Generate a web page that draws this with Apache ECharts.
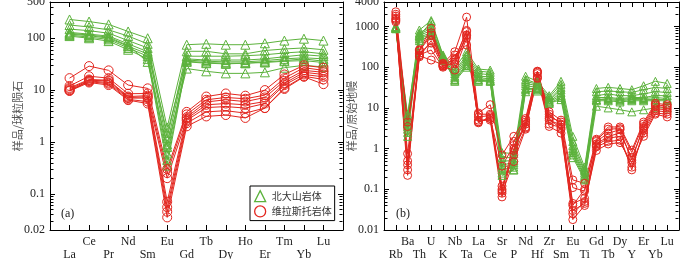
<!DOCTYPE html>
<html><head><meta charset="utf-8">
<script src="https://cdn.jsdelivr.net/npm/echarts@6/dist/echarts.min.js"></script>
<style>html,body{margin:0;padding:0;background:#fff}#c{width:700px;height:259px}</style>
</head><body><div id="c"></div>
<script>
// ---------- data ----------
const reeElements = ['La','Ce','Pr','Nd','Sm','Eu','Gd','Tb','Dy','Ho','Er','Tm','Yb','Lu'];
const spiderElements = ['Rb','Ba','Th','U','K','Nb','Ta','La','Ce','Sr','P','Nd','Hf','Zr','Sm','Eu','Ti','Gd','Tb','Dy','Y','Er','Yb','Lu'];
const yTicksA = [0.02, 0.1, 1, 10, 100, 500];
const yTicksB = [0.01, 0.1, 1, 10, 100, 1000, 4000];

// (a) chondrite-normalised REE, 北大山岩体
const reeBeidashan = [
  [230,210,185,135,100,1.9,75,78,75,75,80,90,98,90],
  [180,165,145,110,78,1.2,56,56,50,50,58,62,65,60],
  [150,140,125,90,65,0.9,45,45,45,46,48,52,55,50],
  [130,120,110,78,55,1.5,40,38,38,38,40,44,48,45],
  [120,112,100,70,50,0.6,38,36,35,35,37,40,42,40],
  [115,105,95,65,45,0.45,36,34,33,33,35,37,40,36],
  [110,100,88,60,40,0.35,35,33,32,33,34,36,37,34],
  [125,115,105,72,35,0.8,26,23,21,21,22,27,30,28]
];
// (a) chondrite-normalised REE, 维拉斯托岩体
const reeWeilasituo = [
  [17,29,24,12.5,10.8,0.3,3.8,7.5,8.6,7.8,10,20,30,27],
  [12,18.5,17,8.5,8.6,0.25,3.4,6.5,7.2,6.8,8,17,27,24],
  [11,16,15.5,7.5,7.8,0.07,3.0,5.9,6.5,6.0,7.2,15,24,22],
  [10.5,15.5,15,7.2,7.4,0.2,2.8,5.2,5.5,5.2,6.0,13.5,22,20],
  [10,15,14,7.0,7.0,0.055,2.6,4.6,4.8,4.5,5.5,12.5,20,18],
  [9.8,14.5,13.3,6.6,6.0,0.045,2.3,3.8,4.0,3.6,4.5,11,18.5,16],
  [9.6,14,12.5,6.4,5.5,0.035,2.0,3.1,3.3,2.9,4.5,10.5,18,13]
];
// (b) primitive-mantle-normalised, 北大山岩体
const spiderBeidashan = [
  [950,6,820,1400,200,95,240,90,85,0.8,0.75,60,45,20,45,2.0,0.35,30,32,30,28,35,45,40],
  [900,4,700,1000,180,80,200,80,75,0.6,0.6,50,40,18,38,1.5,0.3,25,26,25,24,28,32,30],
  [1000,3,650,900,170,70,180,70,65,0.5,0.5,45,38,16,32,1.2,0.28,20,22,20,20,22,25,24],
  [920,5,600,800,160,60,160,60,58,0.4,0.45,40,35,15,28,1.0,0.25,18,18,17,18,18,20,20],
  [880,2.5,550,700,150,55,140,55,52,0.35,0.4,35,32,14,24,0.9,0.22,16,17,16,17,17,18,17],
  [950,3.5,500,650,170,50,120,50,48,0.3,0.35,30,30,14,20,0.8,0.2,16,16,15,16,16,16,16],
  [900,2,450,600,160,48,110,48,46,0.25,0.3,28,28,13,18,0.7,0.18,15,15,14,15,15,15,15],
  [1000,7,600,1300,190,45,100,45,45,0.22,0.3,25,26,13,16,0.6,0.17,11,10,9,8,9,10,10]
];
// (b) primitive-mantle-normalised, 维拉斯托岩体
const spiderWeilasituo = [
  [2300,4.5,270,900,125,240,1700,7.5,12,0.7,2.0,5.5,80,8,5,0.17,0.14,1.7,3.4,3.4,0.92,4.5,13,12],
  [2000,3.5,250,620,110,165,750,4.6,5.5,0.37,1.2,3.4,75,6,4.5,0.11,0.09,1.5,2.4,2.9,0.52,3.5,11,10],
  [1800,0.75,220,390,105,136,620,4.3,6,0.1,0.9,4,70,5,3.8,0.045,0.06,1.2,1.8,2.0,0.3,2.8,8.5,8],
  [1600,0.5,200,265,100,85,515,7,7,0.08,0.48,3,60,4,3.3,0.03,0.045,0.9,1.3,1.4,0.45,2.0,7,6],
  [1400,0.4,190,150,115,200,350,5,5,0.065,1.0,4.5,55,3.5,2.4,0.025,0.05,1.3,2.0,2.4,0.6,3.2,9.5,9],
  [1300,0.3,180,450,120,150,800,6,6.5,0.12,0.7,3.2,53,5.5,3,0.018,0.04,1.1,1.5,1.6,0.35,2.4,7.5,7],
  [1500,0.22,260,700,108,120,600,4.5,5.5,0.09,1.5,5,78,7,4,0.04,0.1,1.6,3.0,3.1,0.8,4.0,12,11]
];
const groupNames = ['北大山岩体', '维拉斯托岩体'];

// ---------- style ----------
const GREEN = '#5cb23c';
const RED = '#e3261f';
const SERIF = 'Liberation Serif';
const CJK = 'Noto Sans CJK SC';

function minorTicks(lo, hi, majors) {
  const out = [];
  for (let e = -3; e <= 4; e++) {
    for (let m = 2; m <= 9; m++) {
      const v = +(m * Math.pow(10, e)).toPrecision(6);
      if (v > lo && v < hi && majors.indexOf(v) < 0) out.push(v);
    }
  }
  return out;
}

function xAxes(grid, names) {
  const max = names.length;
  const base = {
    type: 'value', gridIndex: grid, min: -1, max: max, interval: 1,
    axisLine: { show: true, onZero: false, lineStyle: { color: '#000', width: 1 } },
    axisTick: { show: true, inside: true, length: 5, lineStyle: { color: '#000' } },
    splitLine: { show: false }
  };
  return [
    Object.assign({}, base, {
      position: 'bottom',
      axisLabel: {
        show: true, margin: 5, fontFamily: SERIF, fontSize: 12, color: '#222', lineHeight: 13,
        showMinLabel: true, showMaxLabel: true, interval: 0, hideOverlap: false,
        formatter: v => { const n = names[v]; if (n === undefined) return ''; return v % 2 === 0 ? '\n' + n : n; }
      }
    }),
    Object.assign({}, base, { position: 'top', axisLabel: { show: false } })
  ];
}

function yAxes(grid, lo, hi, name, ticks) {
  const base = {
    type: 'log', logBase: 10, gridIndex: grid, min: lo, max: hi,
    axisLine: { show: true, onZero: false, lineStyle: { color: '#000', width: 1 } },
    axisTick: { show: true, inside: true, length: 5, lineStyle: { color: '#000' } },
    splitLine: { show: false }, minorTick: { show: false }
  };
  return [
    Object.assign({}, base, {
      position: 'left',
      axisLabel: {
        show: true, margin: 5, fontFamily: SERIF, fontSize: 12, color: '#222',
        formatter: v => { const r = +(+v).toPrecision(6); return ticks.indexOf(r) >= 0 ? String(r) : ''; }
      },
      name: name, nameLocation: 'middle', nameRotate: 90, nameGap: 27, nameMoveOverlap: false,
      nameTextStyle: { fontFamily: CJK, fontSize: 11, color: '#555' }
    }),
    Object.assign({}, base, { position: 'right', axisLabel: { show: false } })
  ];
}

function lineSeries(rows, name, color, symbol, size, xi, yi) {
  return rows.map(r => ({
    type: 'line', name: name, xAxisIndex: xi, yAxisIndex: yi,
    data: r.map((v, i) => [i, v]),
    symbol: symbol, symbolSize: size, showSymbol: true, showAllSymbol: true,
    lineStyle: { color: color, width: 1 },
    itemStyle: { color: 'rgba(255,255,255,0)', borderColor: color, borderWidth: 1 },
    emphasis: { disabled: true }, silent: true, animation: false, clip: false
  }));
}

function minorSeries(values, xi, yi, xmin, xmax) {
  return {
    type: 'custom', xAxisIndex: xi, yAxisIndex: yi, silent: true, animation: false, clip: false,
    data: values.map(v => [xmin, v]),
    renderItem: (params, api) => {
      const v = api.value(1);
      const p = api.coord([xmin, v]);
      const q = api.coord([xmax, v]);
      const y = Math.round(p[1]) + 0.5;
      const xl = Math.round(p[0]) + 0.5, xr = Math.round(q[0]) - 0.5;
      return { type: 'group', children: [
        { type: 'line', shape: { x1: xl, y1: y, x2: xl + 3, y2: y }, style: { stroke: '#000', lineWidth: 1 } },
        { type: 'line', shape: { x1: xr - 3, y1: y, x2: xr, y2: y }, style: { stroke: '#000', lineWidth: 1 } }
      ] };
    }
  };
}

const xa = xAxes(0, reeElements);
const xb = xAxes(1, spiderElements);
const ya = yAxes(0, 0.02, 500, '样品/球粒陨石', yTicksA);
const yb = yAxes(1, 0.01, 4000, '样品/原始地幔', yTicksB);

const series = [].concat(
  lineSeries(reeBeidashan, groupNames[0], GREEN, 'triangle', 9, 0, 0),
  lineSeries(reeWeilasituo, groupNames[1], RED, 'circle', 9, 0, 0),
  lineSeries(spiderBeidashan, groupNames[0], GREEN, 'triangle', 8, 2, 2),
  lineSeries(spiderWeilasituo, groupNames[1], RED, 'circle', 8, 2, 2),
  [minorSeries(minorTicks(0.02, 500, yTicksA), 0, 0, -1, reeElements.length),
   minorSeries(minorTicks(0.01, 4000, yTicksB), 2, 2, -1, spiderElements.length)]
);

const chart = echarts.init(document.getElementById('c'), null, { renderer: 'canvas' });
chart.setOption({
  animation: false,
  backgroundColor: '#fff',
  grid: [
    { left: 50, right: 357, top: 2, bottom: 29, containLabel: false, outerBoundsMode: 'none' },
    { left: 384, right: 21, top: 2, bottom: 29, containLabel: false, outerBoundsMode: 'none' }
  ],
  xAxis: [xa[0], xa[1], xb[0], xb[1]],
  yAxis: [ya[0], ya[1], yb[0], yb[1]],
  legend: {
    left: 250, top: 186, orient: 'vertical', selectedMode: false,
    borderColor: '#000', borderWidth: 1, padding: [4, 3, 3, 4], itemGap: 3,
    itemWidth: 11, itemHeight: 11,
    textStyle: { fontFamily: CJK, fontSize: 10, color: '#333', padding: [0, 0, 0, 1] },
    data: [
      { name: groupNames[0], icon: 'triangle', itemStyle: { color: 'rgba(255,255,255,0)', borderColor: GREEN, borderWidth: 1.3 } },
      { name: groupNames[1], icon: 'circle', itemStyle: { color: 'rgba(255,255,255,0)', borderColor: RED, borderWidth: 1.3 } }
    ]
  },
  graphic: [
    { type: 'text', left: 61, top: 208, style: { text: '(a)', font: '12px "Liberation Serif"', fill: '#222' } },
    { type: 'text', left: 396, top: 208, style: { text: '(b)', font: '12px "Liberation Serif"', fill: '#222' } }
  ],
  series: series
});
</script>
</body></html>
